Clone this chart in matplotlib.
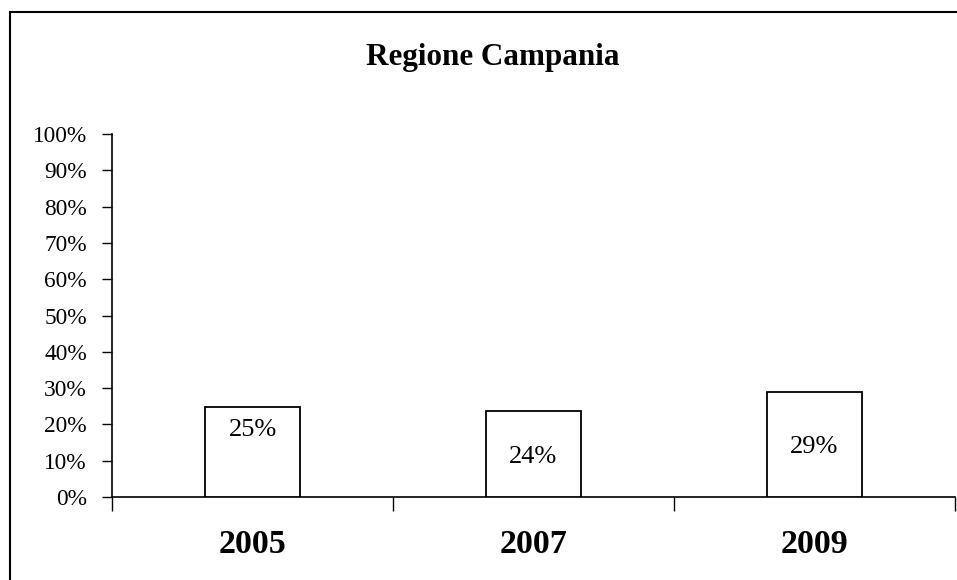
import matplotlib; matplotlib.use('Agg')
import matplotlib.pyplot as plt
from matplotlib.patches import Rectangle
from matplotlib.ticker import PercentFormatter

# data
years  = ['2005', '2007', '2009']
values = [0.248, 0.236, 0.289]
labels = ['25%', '24%', '29%']
title  = 'Regione Campania'

plt.rcParams['font.family'] = ['Liberation Serif', 'DejaVu Serif']

fig = plt.figure(figsize=(9.57, 5.80), dpi=100)
ax = fig.add_axes([112/957, 1 - 497/580, (955 - 112)/957, (497 - 134)/580])

x = list(range(len(years)))
bars = ax.bar(x, values, width=0.335, color='white', edgecolor='black', linewidth=1.3, zorder=3)

# value labels inside the bars (offsets in points, as placed in the original)
offsets = [16, -2, -2]
for b, lab, off in zip(bars, labels, offsets):
    ax.annotate(lab, (b.get_x() + b.get_width()/2, b.get_height()/2),
                xytext=(0, off), textcoords='offset points',
                ha='center', va='center', fontsize=19)

ax.set_xlim(-0.5, len(years) - 0.5)
ax.set_ylim(0, 1)
ax.set_yticks([i/10 for i in range(11)])
ax.yaxis.set_major_formatter(PercentFormatter(1.0, decimals=0))
ax.tick_params(axis='y', direction='out', length=7, width=1, pad=11, labelsize=16.8)

# category borders as major ticks, year names on minor ticks
ax.set_xticks([i - 0.5 for i in range(len(years) + 1)])
ax.set_xticklabels([])
ax.set_xticks(x, minor=True)
ax.set_xticklabels(years, minor=True, fontsize=24.5, fontweight='bold')
ax.tick_params(axis='x', which='major', direction='out', length=10, width=1)
ax.tick_params(axis='x', which='minor', length=0, pad=23)

for s in ['top', 'right']:
    ax.spines[s].set_visible(False)
for s in ['left', 'bottom']:
    ax.spines[s].set_linewidth(1.2)

fig.text(493/957, 1 - 57/580, title, ha='center', va='center',
         fontsize=22.4, fontweight='bold')

# outer chart frame (cut by image edges on right and bottom)
fig.patches.append(Rectangle((10/957, -0.2), 1.2, 1.2 - 12/580,
                             transform=fig.transFigure, fill=False,
                             edgecolor='black', linewidth=1.5))

fig.savefig('out.png', dpi=100)
